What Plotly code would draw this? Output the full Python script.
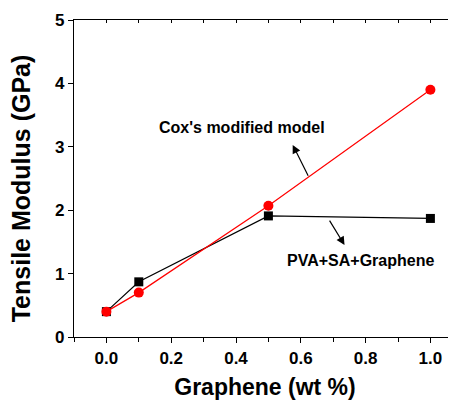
import plotly.graph_objects as go

graphene_wt = [0.0, 0.1, 0.5, 1.0]
pva_sa_graphene = [0.40, 0.87, 1.91, 1.87]
cox_model = [0.40, 0.70, 2.07, 3.90]

x_ticks = [0.0, 0.2, 0.4, 0.6, 0.8, 1.0]
x_tick_labels = ["0.0", "0.2", "0.4", "0.6", "0.8", "1.0"]
y_ticks = [0, 1, 2, 3, 4, 5]
y_tick_labels = ["0", "1", "2", "3", "4", "5"]

FONT = "Arial, Liberation Sans, sans-serif"

fig = go.Figure()
fig.add_trace(go.Scatter(
    x=graphene_wt, y=pva_sa_graphene, mode="lines+markers",
    line=dict(color="black", width=1.2),
    marker=dict(symbol="square", size=9, color="black"),
    showlegend=False))
fig.add_trace(go.Scatter(
    x=graphene_wt, y=cox_model, mode="lines+markers",
    line=dict(color="#ff0000", width=1.2),
    marker=dict(symbol="circle", size=10, color="#ff0000"),
    showlegend=False))
# invisible trace to anchor the top (mirror) axis
fig.add_trace(go.Scatter(x=[graphene_wt[0]], y=[cox_model[0]], xaxis="x2",
                         mode="markers", marker=dict(opacity=0),
                         showlegend=False, hoverinfo="skip"))

fig.update_layout(
    width=448, height=392,
    margin=dict(l=66, r=0, t=12, b=63, autoexpand=False),
    paper_bgcolor="white", plot_bgcolor="white",
    font=dict(family=FONT, color="black"),
    xaxis=dict(
        range=[-0.1, 1.079], tickvals=x_ticks, ticktext=x_tick_labels,
        ticks="outside", ticklen=5, tickwidth=1, tickcolor="black",
        minor=dict(dtick=0.1, tick0=0, ticks="outside", ticklen=4, tickcolor="black"),
        showline=True, linecolor="black", linewidth=1.2, showgrid=False, zeroline=False,
        automargin=False,
        tickfont=dict(family=FONT, size=17, weight="bold", color="black"),
        title=dict(text="Graphene (wt %)", font=dict(family=FONT, size=23, weight="bold"),
                   standoff=18),
    ),
    xaxis2=dict(
        overlaying="x", side="top", matches="x", range=[-0.1, 1.079],
        tickvals=[i / 10 for i in range(0, 11)], automargin=False,
        ticks="inside", ticklen=3, tickcolor="black", showticklabels=False,
        showline=True, linecolor="black", linewidth=1.2, showgrid=False, zeroline=False,
    ),
    yaxis=dict(
        range=[0, 5], tickvals=y_ticks, ticktext=y_tick_labels,
        ticks="outside", ticklen=5, tickwidth=1, tickcolor="black",
        showline=True, linecolor="black", linewidth=1.2, showgrid=False, zeroline=False,
        automargin=False,
        tickfont=dict(family=FONT, size=17, weight="bold", color="black"),
    ),
)

# y-axis title (placed slightly below the axis centre, as in the reference)
fig.add_annotation(x=-0.138, y=0.47, xref="paper", yref="paper",
                   text="Tensile Modulus (GPa)", textangle=-90, showarrow=False,
                   xanchor="center", yanchor="middle",
                   font=dict(family=FONT, size=25, weight="bold", color="black"))

fig.add_annotation(x=0.418, y=3.30, text="Cox's modified model", showarrow=False,
                   font=dict(family=FONT, size=16, weight="bold", color="black"))
fig.add_annotation(x=0.785, y=1.21, text="PVA+SA+Graphene", showarrow=False,
                   font=dict(family=FONT, size=16, weight="bold", color="black"))
fig.add_annotation(x=0.575, y=3.03, ax=0.625, ay=2.52, axref="x", ayref="y",
                   text="", showarrow=True, arrowhead=2, arrowsize=1.4, arrowwidth=1.2,
                   arrowcolor="black")
fig.add_annotation(x=0.735, y=1.45, ax=0.686, ay=1.86, axref="x", ayref="y",
                   text="", showarrow=True, arrowhead=2, arrowsize=1.4, arrowwidth=1.2,
                   arrowcolor="black")

fig.write_html("out.html")
